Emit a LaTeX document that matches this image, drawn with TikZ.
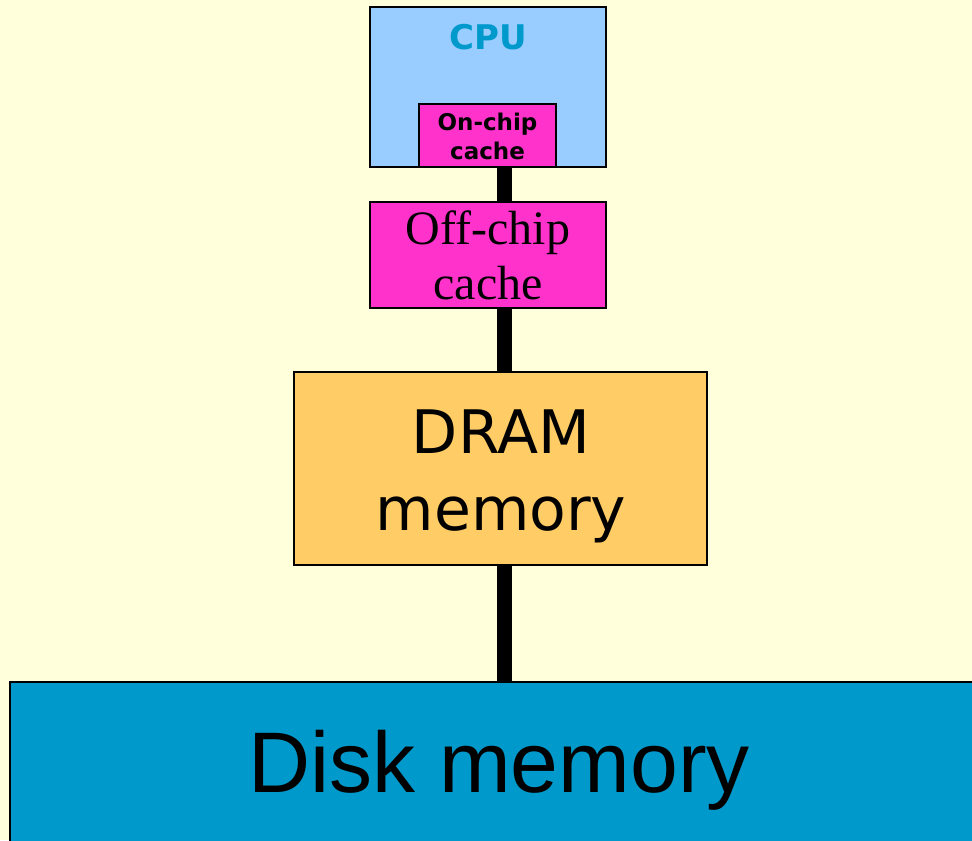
\documentclass[tikz,border=0pt]{standalone}
\usepackage{fontspec}
\setmainfont{Liberation Serif}
\newfontfamily\dvsans{DejaVu Sans}
\newfontfamily\lsans{Liberation Sans}
\usetikzlibrary{positioning, calc}
\definecolor{cream}{HTML}{FFFFDB}
\definecolor{cpublue}{HTML}{99CCFF}
\definecolor{cachepink}{HTML}{FF33CC}
\definecolor{dramorange}{HTML}{FFCC66}
\definecolor{diskblue}{HTML}{0099CC}

\begin{document}
\begin{tikzpicture}
[x=0.5pt, y=-0.5pt,
 blk/.style={rectangle, draw=black, line width=1pt, inner sep=0pt},
 bus/.style={line width=7.5pt, black},
 lbl/.style={anchor=base, align=center, inner sep=0pt}]

% background, fixes the page size
\fill[cream] (0,0) rectangle (972,840);
\useasboundingbox (0,0) rectangle (972,840);

% boxes of the hierarchy
\node[blk, fill=cpublue, minimum width=118pt, minimum height=80pt] (cpu) at (488,87) {};
\node[blk, fill=cachepink, minimum width=68.5pt, minimum height=31.5pt] (onchip) at (487.5,135.5) {};
\node[blk, fill=cachepink, minimum width=118pt, minimum height=53pt] (offchip) at (488,255) {};
\node[blk, fill=dramorange, minimum width=206.5pt, minimum height=96.5pt] (dram) at (500.5,468.5) {};
\node[blk, fill=diskblue, minimum width=490pt, minimum height=94pt] (disk) at (500,776) {};

% the bus between the levels
\coordinate (busx) at (504,0);
\draw[bus] (onchip.south -| busx) -- (offchip.north -| busx);
\draw[bus] (offchip.south -| busx) -- (dram.north -| busx);
\draw[bus] (dram.south -| busx) -- (disk.north -| busx);

% texts (base = baseline of the last line)
\node[lbl, text=diskblue, font=\dvsans\bfseries\fontsize{17}{20}\selectfont] (cputxt) at (488,50) {CPU};
\node[lbl, font=\dvsans\bfseries\fontsize{11.5}{14.5}\selectfont] (onchiptxt) at (487.5,159) {On-chip\\cache};
\node[lbl, font=\fontsize{24}{27.5}\selectfont] (offchiptxt) at (488,299) {Off-chip\\cache};
\node[lbl, font=\dvsans\fontsize{30}{38.5}\selectfont] (dramtxt) at (501,530) {DRAM\\memory};
\node[lbl, font=\lsans\fontsize{43}{50}\selectfont] (disktxt) at (499,792) {Disk memory};

\end{tikzpicture}
\end{document}
